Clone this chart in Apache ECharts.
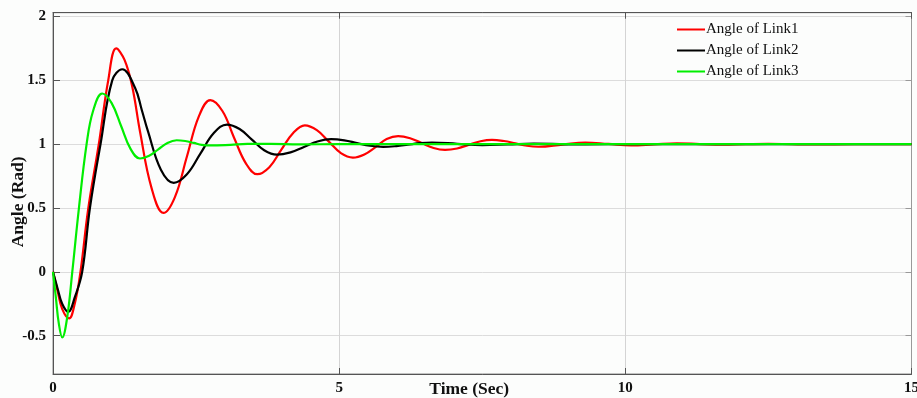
<!DOCTYPE html>
<html>
<head>
<meta charset="utf-8">
<script src="https://cdn.jsdelivr.net/npm/echarts@6/dist/echarts.min.js"></script>
<style>
html,body{margin:0;padding:0;background:#fcfdfc;}
#chart{width:917px;height:398px;}
</style>
</head>
<body>
<div id="chart"></div>
<script>
var seriesNames = ['Angle of Link1', 'Angle of Link2', 'Angle of Link3'];
var xTicks = [0, 5, 10, 15];
var yTicks = [-0.5, 0, 0.5, 1, 1.5, 2];

var link1T = [0, 0.08, 0.16, 0.28, 0.38, 0.48, 0.617, 0.8, 0.965, 1.105, 1.25, 1.385, 1.52, 1.72, 1.93, 2.13, 2.34, 2.55, 2.75, 2.96, 3.16, 3.37, 3.57, 3.78, 3.99, 4.2, 4.4, 4.61, 4.82, 5.03, 5.24, 5.44, 5.64, 5.83, 6.03, 6.24, 6.44, 6.65, 6.85, 7.06, 7.26, 7.47, 7.67, 7.88, 8.08, 8.28, 8.48, 8.9, 9.3, 9.7, 10.1, 10.5, 10.9, 11.3, 11.7, 12.1, 12.5, 12.9, 13.3, 14, 15];
var link1 = [0, -0.15, -0.29, -0.365, -0.25, 0, 0.5, 1.0, 1.5, 1.75, 1.66, 1.45, 1.1, 0.66, 0.462, 0.586, 0.904, 1.22, 1.345, 1.26, 1.055, 0.85, 0.765, 0.82, 0.957, 1.09, 1.148, 1.11, 1.02, 0.93, 0.895, 0.92, 0.979, 1.04, 1.063, 1.047, 1.009, 0.97, 0.955, 0.966, 0.995, 1.023, 1.034, 1.025, 1.007, 0.988, 0.98, 0.997, 1.013, 1.002, 0.99, 0.998, 1.007, 1.001, 0.996, 1.0, 1.003, 1.0, 0.998, 1.0, 1.0];

var link2T = [0, 0.08, 0.16, 0.267, 0.38, 0.51, 0.645, 0.83, 1.035, 1.21, 1.435, 1.55, 1.66, 1.885, 2.11, 2.34, 2.575, 2.81, 3.04, 3.26, 3.475, 3.69, 3.91, 4.15, 4.385, 4.62, 4.86, 5.09, 5.31, 5.54, 5.77, 6.0, 6.2, 6.41, 6.62, 7.06, 7.5, 7.95, 8.4, 9.3, 10.2, 11, 15];
var link2 = [0, -0.13, -0.25, -0.313, -0.2, 0, 0.5, 1.0, 1.5, 1.587, 1.44, 1.27, 1.1, 0.8, 0.697, 0.764, 0.926, 1.087, 1.154, 1.119, 1.036, 0.953, 0.918, 0.936, 0.978, 1.021, 1.039, 1.03, 1.009, 0.988, 0.979, 0.985, 0.996, 1.008, 1.013, 1.003, 0.993, 0.998, 1.004, 0.998, 1.001, 1.0, 1.0];

var link3T = [0, 0.05, 0.1, 0.162, 0.25, 0.337, 0.453, 0.587, 0.7, 0.861, 1.025, 1.19, 1.355, 1.52, 1.68, 1.84, 2.0, 2.16, 2.31, 2.46, 2.6, 2.75, 3.1, 3.4, 3.8, 4.3, 5, 15];
var link3 = [0, -0.2, -0.4, -0.514, -0.35, 0, 0.5, 1.0, 1.26, 1.397, 1.322, 1.1425, 0.963, 0.888, 0.909, 0.96, 1.01, 1.031, 1.025, 1.01, 0.995, 0.99, 0.995, 1.002, 1.002, 0.999, 1.0, 1.0];

function pairs(t, v) { return t.map(function (x, i) { return [x, v[i]]; }); }

var serif = '"Liberation Serif", "DejaVu Serif", serif';
var chart = echarts.init(document.getElementById('chart'), null, {renderer: 'canvas'});
var colors = ['#ff0000', '#000000', '#00ee00'];

chart.setOption({
  backgroundColor: '#fcfdfc',
  animation: false,
  color: colors,
  grid: {left: 53, right: 5.5, top: 12.7, bottom: 24, containLabel: false, outerBoundsMode: 'none', show: true, borderColor: '#888', borderWidth: 1, backgroundColor: '#fcfdfc'},
  legend: {
    orient: 'vertical', left: 677, top: 22, padding: 0, itemWidth: 28, itemHeight: 2, itemGap: 6,
    icon: 'rect',
    textStyle: {fontFamily: serif, fontSize: 15, color: '#111', padding: [0, 0, 0, -4], lineHeight: 15},
    data: seriesNames
  },
  xAxis: [{
    type: 'value', min: xTicks[0], max: xTicks[xTicks.length - 1], interval: 5,
    name: 'Time (Sec)', nameLocation: 'middle', nameGap: 6, nameMoveOverlap: false,
    nameTextStyle: {fontFamily: serif, fontSize: 17.5, fontWeight: 'bold', color: '#111', padding: [0, 26, 0, 0], verticalAlign: 'top'},
    axisLine: {show: true, onZero: false, lineStyle: {color: '#555', width: 1}},
    axisTick: {show: true, inside: true, length: 6, lineStyle: {color: '#555'}},
    axisLabel: {fontFamily: serif, fontSize: 15, fontWeight: 'bold', color: '#111', margin: 7, showMaxLabel: true, showMinLabel: true},
    splitLine: {show: true, lineStyle: {color: '#d4d4d4', width: 1}}
  }, {
    type: 'value', position: 'top', min: 0, max: 15, interval: 5,
    axisLine: {show: true, onZero: false, lineStyle: {color: '#555'}},
    axisTick: {show: true, inside: true, length: 6, lineStyle: {color: '#555'}},
    axisLabel: {show: false}, splitLine: {show: false}
  }],
  yAxis: [{
    type: 'value', min: -0.8, max: 2.03,
    name: 'Angle (Rad)', nameLocation: 'middle', nameGap: 26, nameRotate: 90, nameMoveOverlap: false,
    nameTextStyle: {fontFamily: serif, fontSize: 17.5, fontWeight: 'bold', color: '#111', padding: [0, 17, 0, 0]},
    axisLine: {show: true, onZero: false, lineStyle: {color: '#555', width: 1}},
    axisTick: {show: true, inside: true, length: 7, lineStyle: {color: '#555'}, customValues: yTicks},
    axisLabel: {fontFamily: serif, fontSize: 15, fontWeight: 'bold', color: '#111', margin: 7, customValues: yTicks},
    splitLine: {show: true, lineStyle: {color: '#dcdcdc', width: 1}}
  }, {
    type: 'value', position: 'right', min: -0.8, max: 2.03,
    axisLine: {show: true, onZero: false, lineStyle: {color: '#999'}},
    axisTick: {show: true, inside: true, length: 6, lineStyle: {color: '#999'}, customValues: yTicks},
    axisLabel: {show: false, customValues: yTicks}, splitLine: {show: false}
  }],
  series: [
    {name: seriesNames[0], type: 'line', data: pairs(link1T, link1), smooth: 0.4, showSymbol: false, lineStyle: {width: 2.2, color: colors[0]}, itemStyle: {color: colors[0]}},
    {name: seriesNames[1], type: 'line', data: pairs(link2T, link2), smooth: 0.4, showSymbol: false, lineStyle: {width: 2.2, color: colors[1]}, itemStyle: {color: colors[1]}},
    {name: seriesNames[2], type: 'line', data: pairs(link3T, link3), smooth: 0.4, showSymbol: false, lineStyle: {width: 2.2, color: colors[2]}, itemStyle: {color: colors[2]}}
  ]
});
</script>
</body>
</html>
